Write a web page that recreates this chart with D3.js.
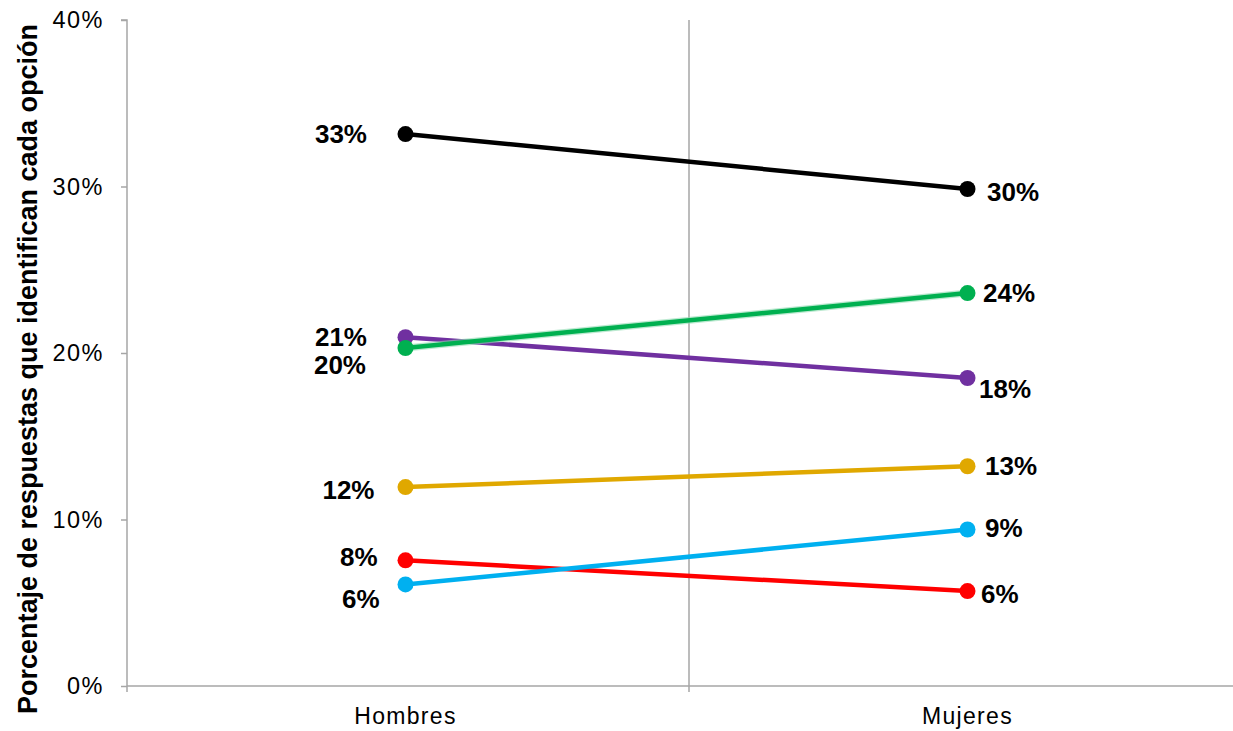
<!DOCTYPE html>
<html><head><meta charset="utf-8">
<script src="https://cdn.jsdelivr.net/npm/d3@7"></script>
<style>body{margin:0;background:#fff}svg{display:block}</style>
</head><body>
<svg id="c" width="1233" height="731"></svg>
<script>
const categories = ["Hombres", "Mujeres"];
const seriesNames = ["s1", "s2", "s3", "s4", "s5", "s6"];
const hombres = [33.15, 20.3, 20.95, 11.95, 6.1, 7.55];
const mujeres = [29.85, 23.6, 18.5, 13.2, 9.4, 5.7];
const labelsH = ["33%", "20%", "21%", "12%", "6%", "8%"];
const labelsM = ["30%", "24%", "18%", "13%", "9%", "6%"];
const yTicks = [0, 10, 20, 30, 40];
const yTitle = "Porcentaje de respuestas que identifican cada opción";
const colors = ["#000000", "#00b050", "#7030a0", "#e0a800", "#00b0f0", "#ff0000"];

// label nudges (style only): [dx, dy] relative to point
const nudgeH = [[-38.5, 0], [-39.5, 17], [-38.5, -1], [-31, 3], [-26, 14], [-28, -4]];
const nudgeM = [[19.5, 3], [15.5, 0], [11.5, 11], [17.5, -1], [17.5, -2], [13.5, 3]];

const svg = d3.select("#c");
const x = d3.scalePoint().domain(categories).range([124.5, 1248.5]).padding(0.5);
const y = d3.scaleLinear().domain([0, 40]).range([686, 20]);
const grey = "#a6a6a6";
const font = "Liberation Sans, Arial, sans-serif";

// y axis
const yAxis = d3.axisLeft(y).tickValues(yTicks).tickFormat(d => d + "%").tickSize(6).tickPadding(17);
const ga = svg.append("g").attr("transform", "translate(127,0)").call(yAxis);
ga.select(".domain").attr("stroke", grey).attr("stroke-width", 1.5).attr("d", "M-6,20H0V692");
ga.selectAll(".tick line").attr("stroke", grey).attr("stroke-width", 1.5);
ga.selectAll(".tick text").attr("font-family", font)
  .attr("font-size", 23.5).attr("fill", "#000").style("letter-spacing", "1.5px");

// x axis
const gx = svg.append("g").attr("transform", "translate(0,686)");
gx.append("line").attr("x1", 127).attr("x2", 1251).attr("y1", 0).attr("y2", 0)
  .attr("stroke", grey).attr("stroke-width", 1.5);
const step = x.step();
const boundaries = [x(categories[0]) + step / 2 + 2.5];
gx.selectAll("line.b").data(boundaries).join("line").attr("class", "b")
  .attr("x1", d => d).attr("x2", d => d).attr("y1", y(40) - 686).attr("y2", 6)
  .attr("stroke", grey).attr("stroke-width", 1.5);
gx.selectAll("text.cat").data(categories).join("text").attr("class", "cat")
  .attr("x", d => x(d)).attr("y", 38).attr("text-anchor", "middle")
  .attr("font-family", font).attr("font-size", 23)
  .style("letter-spacing", "1.3px").text(d => d);

// y title
svg.append("text").attr("transform", `translate(37,369) rotate(-90)`)
  .attr("text-anchor", "middle").attr("font-family", font)
  .attr("font-weight", "bold").attr("font-size", 27).text(yTitle);

// lines
const data = seriesNames.map((s, i) => ({ i, pts: [hombres[i], mujeres[i]] }));
const drawOrder = [0, 2, 1, 3, 5, 4];
const gl = svg.append("g");
drawOrder.forEach(i => {
  const d = data[i];
  if (i === 1) {
    gl.append("line").attr("x1", x(categories[0])).attr("y1", y(d.pts[0]))
      .attr("x2", x(categories[1])).attr("y2", y(d.pts[1]))
      .attr("stroke", "#8fdcb2").attr("stroke-width", 7).attr("opacity", 0.6);
  }
  gl.append("line").attr("x1", x(categories[0])).attr("y1", y(d.pts[0]))
    .attr("x2", x(categories[1])).attr("y2", y(d.pts[1]))
    .attr("stroke", colors[i]).attr("stroke-width", 4.5);
  d.pts.forEach((v, k) => {
    gl.append("circle").attr("cx", x(categories[k])).attr("cy", y(v)).attr("r", 8).attr("fill", colors[i]);
  });
});

// labels
data.forEach(d => {
  svg.append("text").attr("x", x(categories[0]) + nudgeH[d.i][0]).attr("y", y(d.pts[0]) + nudgeH[d.i][1])
    .attr("dy", "0.36em").attr("text-anchor", "end").attr("font-family", font)
    .attr("font-weight", "bold").attr("font-size", 26).text(labelsH[d.i]);
  svg.append("text").attr("x", x(categories[1]) + nudgeM[d.i][0]).attr("y", y(d.pts[1]) + nudgeM[d.i][1])
    .attr("dy", "0.36em").attr("text-anchor", "start").attr("font-family", font)
    .attr("font-weight", "bold").attr("font-size", 26).text(labelsM[d.i]);
});
</script>
</body></html>
